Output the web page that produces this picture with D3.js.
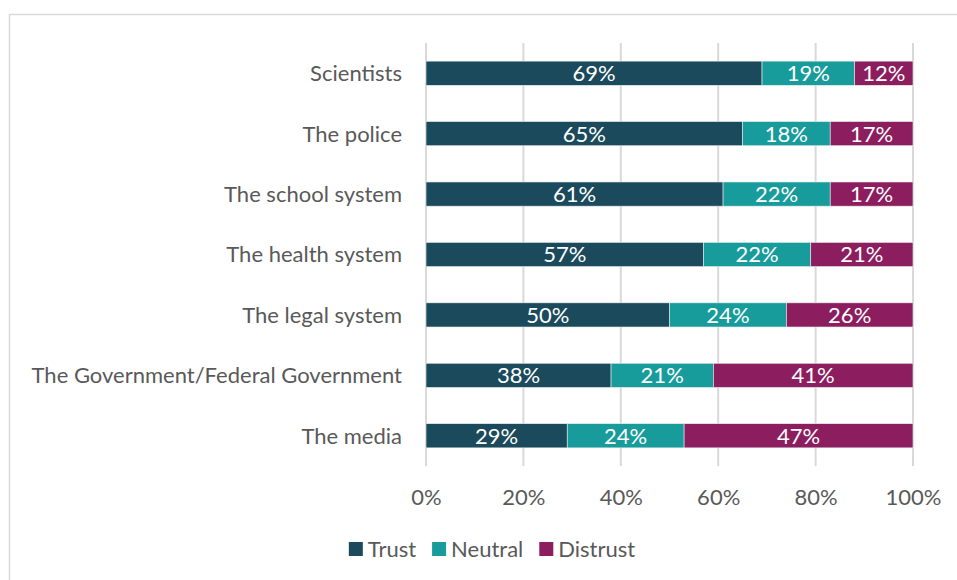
<!DOCTYPE html>
<html>
<head>
<meta charset="utf-8">
<script src="https://cdn.jsdelivr.net/npm/d3@7"></script>
<style>
  body { margin: 0; background: #fff; }
  text { font-family: Lato, "Open Sans", sans-serif; }
</style>
</head>
<body>
<div id="chart"></div>
<script>
// data
var categories = ["Scientists", "The police", "The school system", "The health system",
                  "The legal system", "The Government/Federal Government", "The media"];
var trust    = [69, 65, 61, 57, 50, 38, 29];
var neutral  = [19, 18, 22, 22, 24, 21, 24];
var distrust = [12, 17, 17, 21, 26, 41, 47];
var seriesNames = ["Trust", "Neutral", "Distrust"];
var tickValues = [0, 20, 40, 60, 80, 100];

var colors = ["#1a4a5b", "#179c9b", "#8c1e5f"];
var width = 957, height = 580;
var fontSize = "22px";

var svg = d3.select("#chart").append("svg")
    .attr("width", width)
    .attr("height", height);

// chart frame
svg.append("rect")
    .attr("x", 9.5).attr("y", 14.5)
    .attr("width", 960).attr("height", 580)
    .attr("fill", "none")
    .attr("stroke", "#d9d9d9")
    .attr("stroke-width", 1.5);

var x = d3.scaleLinear().domain([0, 100]).range([426, 913]);
var y = d3.scaleBand().domain(categories).range([43, 466]).paddingInner(0.6).paddingOuter(0.3);

// grid lines
svg.append("g").selectAll("line")
    .data(tickValues)
    .enter().append("line")
    .attr("x1", function (d) { return x(d); })
    .attr("x2", function (d) { return x(d); })
    .attr("y1", 43).attr("y2", 466)
    .attr("stroke", "#d9d9d9")
    .attr("stroke-width", 2);

// stack the series
var rows = categories.map(function (c, i) {
    return { cat: c, Trust: trust[i], Neutral: neutral[i], Distrust: distrust[i] };
});
var stacked = d3.stack().keys(seriesNames)(rows);

var layer = svg.append("g").selectAll("g")
    .data(stacked)
    .enter().append("g")
    .attr("fill", function (d, i) { return colors[i]; });

layer.selectAll("rect")
    .data(function (d) { return d; })
    .enter().append("rect")
    .attr("x", function (d) { return x(d[0]); })
    .attr("width", function (d) { return x(d[1]) - x(d[0]); })
    .attr("y", function (d) { return y(d.data.cat); })
    .attr("height", y.bandwidth())
    .attr("stroke", "#e8eef0")
    .attr("stroke-width", 0.6);

// value labels
layer.selectAll("text")
    .data(function (d) { return d; })
    .enter().append("text")
    .attr("x", function (d) { return (x(d[0]) + x(d[1])) / 2; })
    .attr("y", function (d) { return y(d.data.cat) + y.bandwidth() / 2; })
    .attr("dy", "0.36em")
    .attr("text-anchor", "middle")
    .attr("fill", "#fff")
    .attr("font-size", fontSize)
    .text(function (d) { return (d[1] - d[0]) + "%"; });

// category labels
svg.append("g").selectAll("text")
    .data(categories)
    .enter().append("text")
    .attr("x", 402)
    .attr("y", function (d) { return y(d) + y.bandwidth() / 2; })
    .attr("dy", "0.36em")
    .attr("text-anchor", "end")
    .attr("fill", "#595959")
    .attr("font-size", fontSize)
    .text(function (d) { return d; });

// x axis labels
var xAxis = svg.append("g")
    .attr("transform", "translate(0,497)")
    .call(d3.axisBottom(x).tickValues(tickValues).tickSize(0).tickFormat(function (d) { return d + "%"; }));
xAxis.select(".domain").remove();
xAxis.selectAll("text")
    .attr("y", 0)
    .attr("dy", "0.36em")
    .attr("fill", "#595959")
    .attr("font-size", fontSize)
    .style("font-family", "Lato, 'Open Sans', sans-serif");

// legend - lay out items by measured text width, centred
var legend = svg.append("g");
var items = legend.selectAll("g")
    .data(seriesNames)
    .enter().append("g");
items.append("rect")
    .attr("x", 0).attr("y", -7)
    .attr("width", 14).attr("height", 14)
    .attr("fill", function (d, i) { return colors[i]; });
items.append("text")
    .attr("x", 19)
    .attr("dy", "0.36em")
    .attr("fill", "#595959")
    .attr("font-size", fontSize)
    .text(function (d) { return d; });
var gap = 16, offset = 0;
items.each(function () {
    var w = d3.select(this).select("text").node().getComputedTextLength();
    d3.select(this).attr("transform", "translate(" + offset + ",0)");
    offset += 19 + w + gap;
});
var total = offset - gap;
legend.attr("transform", "translate(" + (492 - total / 2) + ",549)");
</script>
</body>
</html>
